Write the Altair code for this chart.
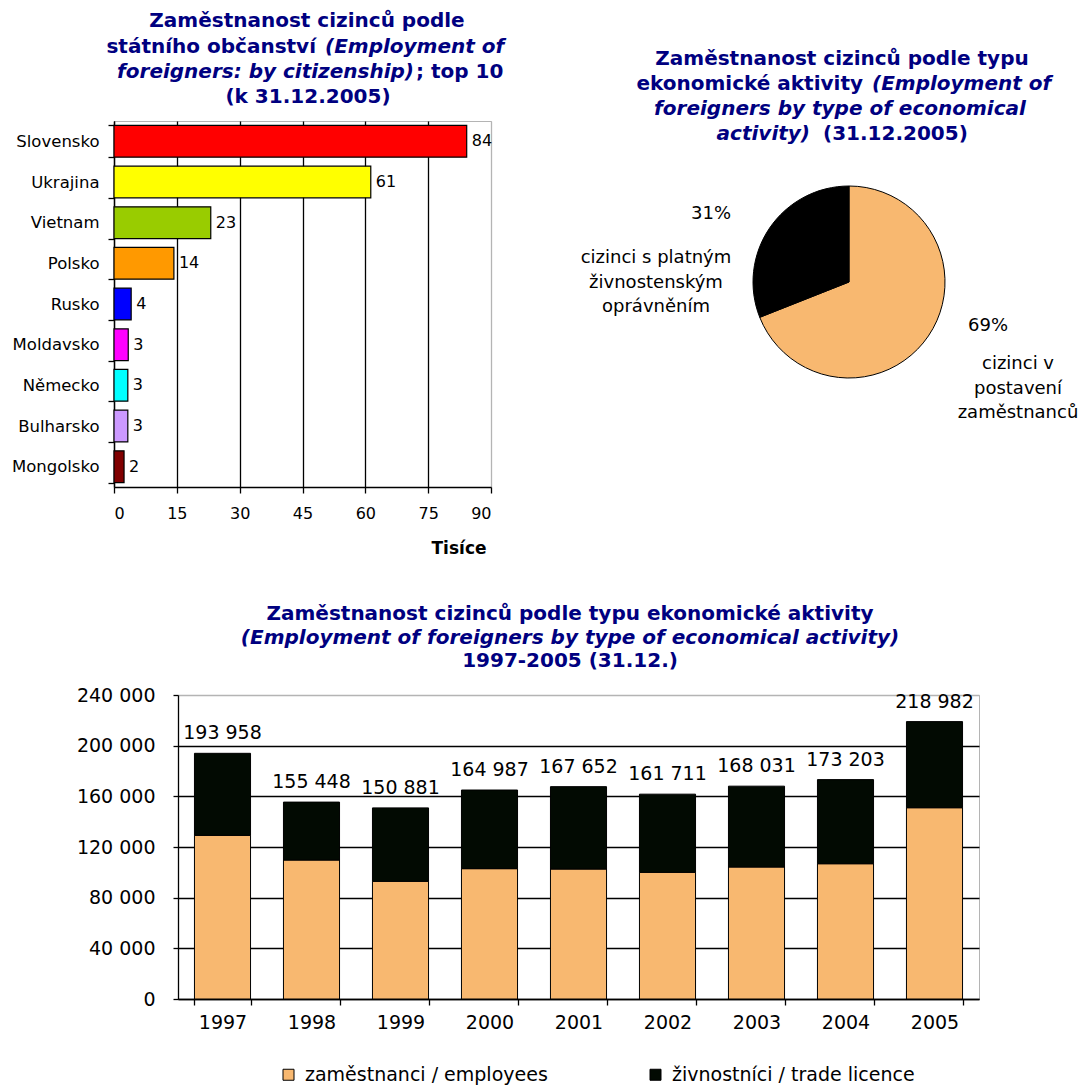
import altair as alt
import pandas as pd

FONT = "DejaVu Sans"
NAVY = "#000080"
ORANGE = "#F8B870"
DARK = "#020A02"
BORDER = "#b4b4b4"

# ---------------- data ----------------
countries = ["Slovensko", "Ukrajina", "Vietnam", "Polsko", "Rusko",
             "Moldavsko", "Německo", "Bulharsko", "Mongolsko"]
thousands = [84.2, 61.3, 23.1, 14.3, 4.1, 3.4, 3.3, 3.3, 2.4]
bar_colors = ["#FF0000", "#FFFF00", "#99CC00", "#FF9900", "#0000FF",
              "#FF00FF", "#00FFFF", "#CC99FF", "#800000"]
x_ticks = [0, 15, 30, 45, 60, 75, 90]

pie_types = ["cizinci v postavení zaměstnanců",
             "cizinci s platným živnostenským oprávněním"]
pie_shares = [69, 31]

years = ["1997", "1998", "1999", "2000", "2001", "2002", "2003", "2004", "2005"]
totals = [193958, 155448, 150881, 164987, 167652, 161711, 168031, 173203, 218982]
employees = [129200, 109700, 92900, 102900, 102600, 100000, 104200, 106800, 151000]
trade = [t - e for t, e in zip(totals, employees)]
series = ["zaměstnanci / employees", "živnostníci / trade licence"]
y_ticks = [0, 40000, 80000, 120000, 160000, 200000, 240000]


def txt(s, x, y, size=20, weight="bold", style="normal", align="center", color=NAVY):
    return alt.Chart(alt.Data(values=[{"k": 0}])).mark_text(
        text=s, fontSize=size, fontWeight=weight, fontStyle=style, align=align,
        baseline="middle", color=color, font=FONT
    ).encode(x=alt.value(x), y=alt.value(y))


# ---------------- top-left: horizontal bars ----------------
df_c = pd.DataFrame({"country": countries, "v": thousands})

x_top = alt.X(
    "v:Q",
    scale=alt.Scale(domain=[0, 90], nice=False, zero=True),
    axis=alt.Axis(
        values=x_ticks, format="d", grid=True,
        gridColor={"condition": {"test": "datum.value >= 90", "value": BORDER}, "value": "black"},
        gridWidth=1.3, domainColor="black", domainWidth=1.3,
        tickColor="black", tickSize=6, tickWidth=1.3,
        labelFont=FONT, labelFontSize=16, labelColor="black", labelPadding=12,
        title="Tisíce", titleFont=FONT, titleFontSize=17, titleFontWeight="bold",
        titleColor="black", titleAlign="right", titleX=372, titleY=61,
        titleBaseline="middle",
    ),
)
y_top = alt.Y(
    "country:N", sort=countries,
    scale=alt.Scale(paddingInner=0.22, paddingOuter=0.11),
    axis=alt.Axis(
        title=None, tickBand="extent", grid=False,
        domainColor="black", domainWidth=1.3,
        tickColor="black", tickSize=6, tickWidth=1.3,
        labelFont=FONT, labelFontSize=16.5, labelColor="black",
        labelPadding=9, labelLimit=200,
    ),
)

bars_top = alt.Chart(df_c).mark_bar(stroke="black", strokeWidth=1.2).encode(
    x=x_top, y=y_top,
    color=alt.Color("country:N", scale=alt.Scale(domain=countries, range=bar_colors), legend=None),
)
vals_top = alt.Chart(df_c).mark_text(
    align="left", dx=5, font=FONT, fontSize=16, color="black"
).encode(
    x="v:Q", y=alt.Y("country:N", sort=countries),
    text=alt.Text("v:Q", format=".0f"),
)

# ---------------- top-right: pie ----------------
df_p = pd.DataFrame({"typ": pie_types, "share": pie_shares, "ord": [0, 1]})
pie = alt.Chart(df_p).mark_arc(radius=96, stroke="black", strokeWidth=1).encode(
    theta=alt.Theta("share:Q", stack=True),
    color=alt.Color("typ:N", scale=alt.Scale(domain=pie_types, range=[ORANGE, "black"]), legend=None),
    order=alt.Order("ord:Q"),
    x=alt.value(735), y=alt.value(161),
)

top_texts = [
    # bar chart title
    txt("Zaměstnanost cizinců podle", 193, -100),
    txt("státního občanství", 202, -74, align="right"),
    txt("(Employment of", 211, -74, style="italic", align="left"),
    txt("foreigners: by citizenship)", 300, -49, style="italic", align="right"),
    txt("; top 10", 302, -49, align="left"),
    txt("(k 31.12.2005)", 194, -24),
    # pie title
    txt("Zaměstnanost cizinců podle typu", 728, -62),
    txt("ekonomické aktivity", 749, -37, align="right"),
    txt("(Employment of", 758, -37, style="italic", align="left"),
    txt("foreigners by type of economical", 726, -12, style="italic"),
    txt("activity)", 696, 13, style="italic", align="right"),
    txt("(31.12.2005)", 709, 13, align="left"),
    # pie labels
    txt(f"{pie_shares[1]}%", 597, 93, size=18, weight="normal", color="black"),
    txt("cizinci s platným", 542, 137, size=18, weight="normal", color="black"),
    txt("živnostenským", 542, 162, size=18, weight="normal", color="black"),
    txt("oprávněním", 542, 186, size=18, weight="normal", color="black"),
    txt(f"{pie_shares[0]}%", 874, 205, size=18, weight="normal", color="black"),
    txt("cizinci v", 904, 243, size=18, weight="normal", color="black"),
    txt("postavení", 904, 268, size=18, weight="normal", color="black"),
    txt("zaměstnanců", 904, 292, size=18, weight="normal", color="black"),
]

top = alt.layer(bars_top, vals_top, pie, *top_texts).resolve_scale(
    color="independent"
).properties(width=377, height=366)

# ---------------- bottom: stacked bars ----------------
df_b = pd.DataFrame({
    "year": years * 2,
    "series": [series[0]] * len(years) + [series[1]] * len(years),
    "val": employees + trade,
    "ord": [0] * len(years) + [1] * len(years),
})
df_t = pd.DataFrame({"year": years, "total": totals})

bars_b = alt.Chart(df_b).mark_bar(stroke="black", strokeWidth=1).encode(
    x=alt.X(
        "year:O",
        scale=alt.Scale(paddingInner=0.37, paddingOuter=0.185),
        axis=alt.Axis(
            title=None, labelAngle=0, tickBand="extent",
            tickSize=6, tickColor="black", tickWidth=1.3,
            domainColor="black", domainWidth=1.3,
            labelFont=FONT, labelFontSize=19, labelColor="black", labelPadding=8,
        ),
    ),
    y=alt.Y(
        "val:Q", stack="zero",
        scale=alt.Scale(domain=[0, 240000], nice=False),
        axis=alt.Axis(
            title=None, values=y_ticks,
            labelExpr="replace(format(datum.value, ','), ',', ' ')",
            grid=True,
            gridColor={"condition": {"test": "datum.value >= 240000", "value": BORDER}, "value": "black"},
            gridWidth=1.3, tickSize=5, tickColor="black", tickWidth=1.3,
            domainColor="black", domainWidth=1.3,
            labelFont=FONT, labelFontSize=19, labelColor="black", labelPadding=18,
        ),
    ),
    color=alt.Color(
        "series:N",
        scale=alt.Scale(domain=series, range=[ORANGE, DARK]),
        legend=alt.Legend(
            title=None, orient="none", legendX=165, legendY=944,
            direction="horizontal", columnPadding=98,
            symbolType="square", symbolSize=121,
            symbolStrokeColor="black", symbolStrokeWidth=1,
            labelFont=FONT, labelFontSize=19, labelColor="black",
            labelOffset=7, labelLimit=400,
        ),
    ),
    order=alt.Order("ord:Q"),
)

labels_b = alt.Chart(df_t).transform_calculate(
    lab="replace(format(datum.total, ','), ',', ' ')"
).mark_text(dy=-20, font=FONT, fontSize=19, color="black", baseline="middle").encode(
    x="year:O", y="total:Q", text="lab:N"
)

bottom_texts = [
    txt("Zaměstnanost cizinců podle typu ekonomické aktivity", 392, -81),
    txt("(Employment of foreigners by type of economical activity)", 392, -57, style="italic"),
    txt("1997-2005 (31.12.)", 392, -34),
]

bottom = alt.layer(bars_b, labels_b, *bottom_texts).properties(width=801, height=304)

spacer = alt.Chart(alt.Data(values=[{"k": 0}])).mark_point(opacity=0).encode(
    x=alt.value(0), y=alt.value(0)
).properties(width=64, height=10, view=alt.ViewBackground(strokeOpacity=0))

row2 = alt.hconcat(spacer, bottom, spacing=0, bounds="flush")

chart = alt.vconcat(top, row2, spacing=208, bounds="flush").properties(
    padding={"left": 2, "top": 2, "right": 0, "bottom": 0}
).configure_view(stroke=BORDER)

chart.save("out.html", embed_options={"renderer": "svg", "actions": False})
